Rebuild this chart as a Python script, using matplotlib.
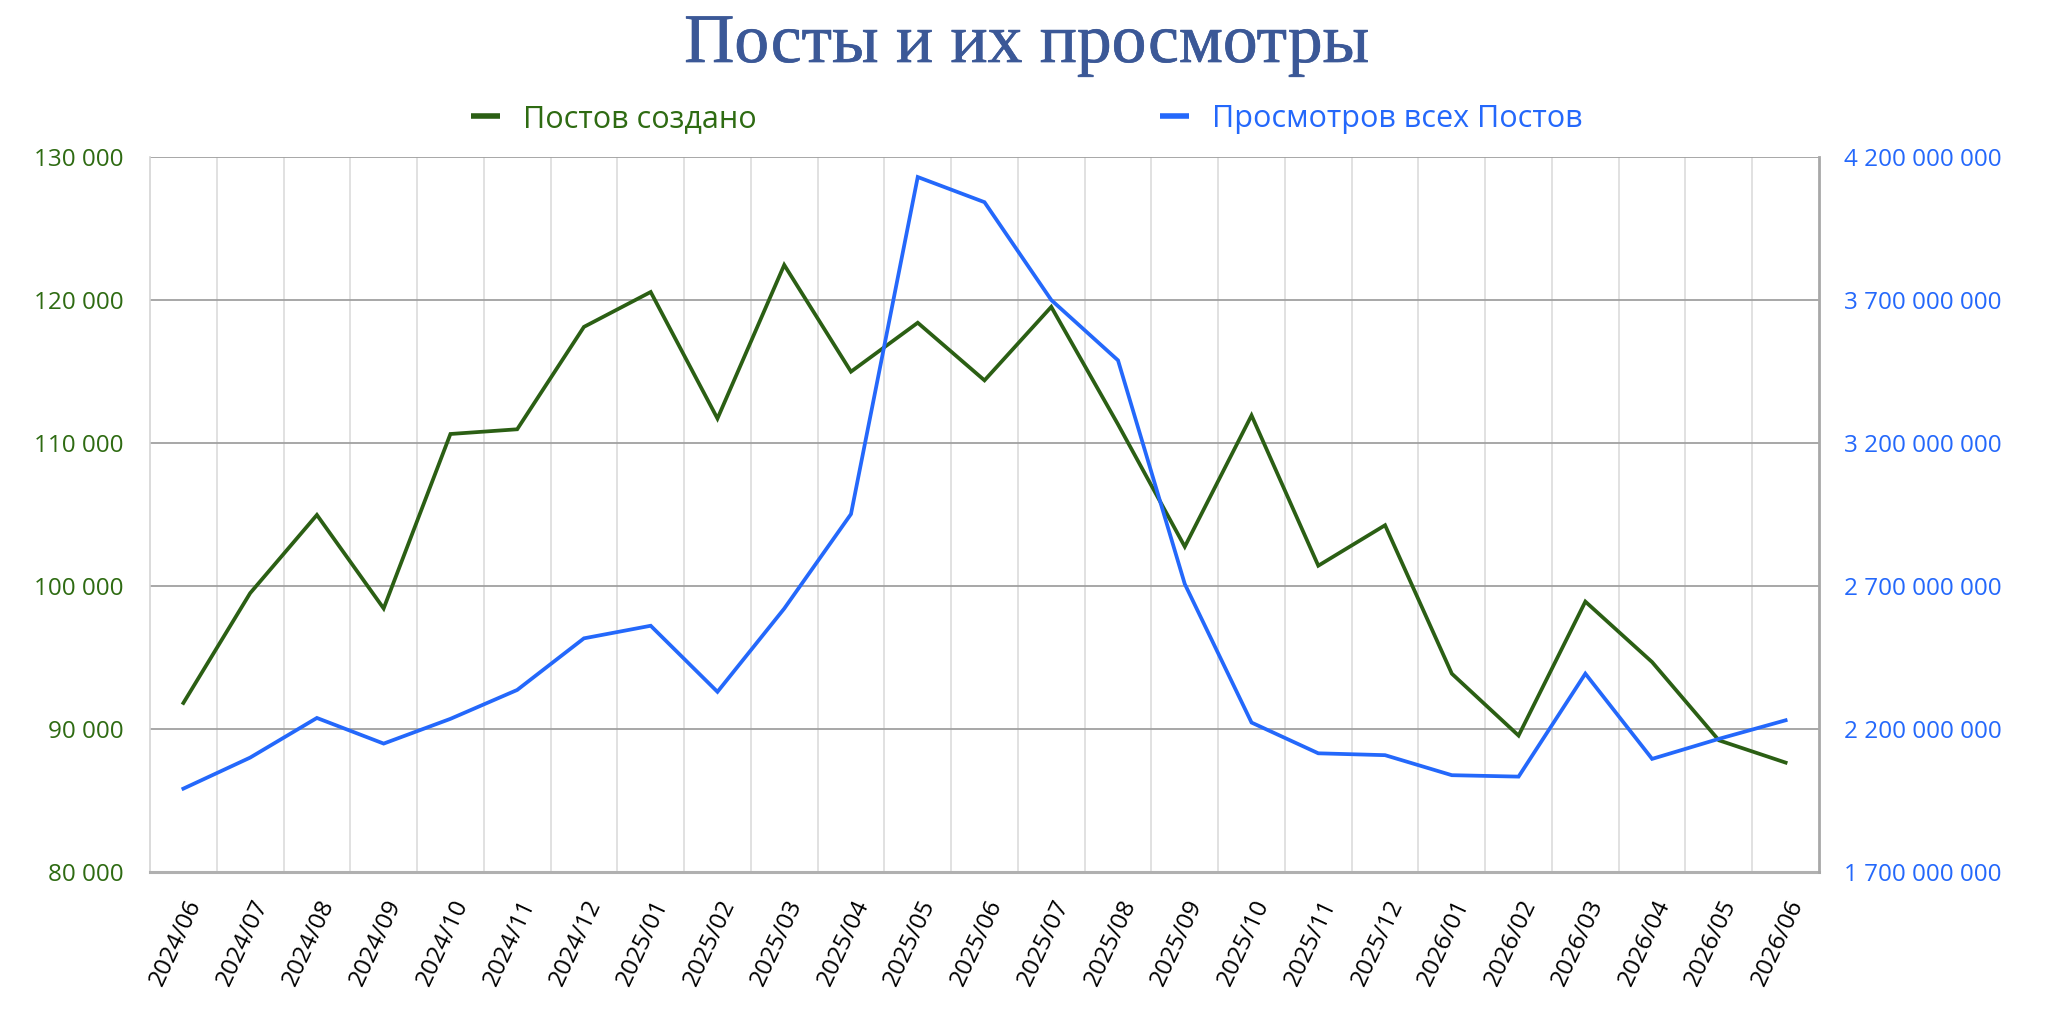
import matplotlib
matplotlib.use("Agg")
import matplotlib.pyplot as plt
import matplotlib.patheffects as pe
from matplotlib.ticker import FuncFormatter, LinearLocator
from matplotlib.transforms import ScaledTranslation


# ─── Data ─────────────────────────────────────────────────────────────────────

months = [
    "2024/06", "2024/07", "2024/08", "2024/09", "2024/10", "2024/11", "2024/12",
    "2025/01", "2025/02", "2025/03", "2025/04", "2025/05", "2025/06", "2025/07",
    "2025/08", "2025/09", "2025/10", "2025/11", "2025/12",
    "2026/01", "2026/02", "2026/03", "2026/04", "2026/05", "2026/06",
]

posts_created = [
    91820, 99500, 104970, 98430, 110630, 110960, 118120,
    120560, 111710, 122450, 114990, 118410, 114380, 119520,
    111300, 102750, 111930, 101420, 104250,
    93870, 89540, 98910, 94680, 89210, 87650,
]

post_views = [
    1.9915e9, 2.100e9, 2.2386e9, 2.149e9, 2.2355e9, 2.3365e9, 2.517e9,
    2.561e9, 2.330e9, 2.621e9, 2.9515e9, 4.130e9, 4.042e9, 3.700e9,
    3.489e9, 2.707e9, 2.2225e9, 2.115e9, 2.1085e9,
    2.0385e9, 2.0335e9, 2.3935e9, 2.0955e9, 2.1655e9, 2.2305e9,
]

left_range = (80000, 130000)
right_range = (1.7e9, 4.2e9)
n_value_ticks = 6

title_text = "Посты и их просмотры"
label_posts = "Постов создано"
label_views = "Просмотров всех Постов"


# ─── Style ────────────────────────────────────────────────────────────────────

GREEN_LINE = "#2b5f14"
GREEN_TEXT = "#2e6b12"
BLUE_LINE = "#2468fb"
BLUE_TEXT = "#2468fb"
TITLE_COLOR = "#3b5897"

plt.rcParams["font.family"] = ["Open Sans", "DejaVu Sans"]


def spaced(v, pos=None):
    return f"{v:,.0f}".replace(",", " ")


# ─── Figure ───────────────────────────────────────────────────────────────────

fig = plt.figure(figsize=(20.48, 10.15), dpi=100)
ax = fig.add_axes([150 / 2048, 1 - 872 / 1015, 1669 / 2048, 715 / 1015])
ax2 = ax.twinx()

x = list(range(len(months)))
l1, = ax.plot(x, posts_created, color=GREEN_LINE, linewidth=2.7,
              solid_joinstyle="miter", label=label_posts, zorder=3)
l2, = ax2.plot(x, post_views, color=BLUE_LINE, linewidth=2.7,
               solid_joinstyle="miter", label=label_views, zorder=3)

ax.set_xlim(-0.5, len(months) - 0.5)
ax.set_ylim(*left_range)
ax2.set_ylim(*right_range)

ax.yaxis.set_major_locator(LinearLocator(n_value_ticks))
ax2.yaxis.set_major_locator(LinearLocator(n_value_ticks))
ax.yaxis.set_major_formatter(FuncFormatter(spaced))
ax2.yaxis.set_major_formatter(FuncFormatter(spaced))

# grid: horizontal at value ticks, vertical between categories
ax.set_xticks([i + 0.5 for i in range(len(months) - 1)], minor=True)
ax.grid(axis="y", which="major", color="#a0a0a0", linewidth=1.3, zorder=0)
ax.grid(axis="x", which="minor", color="#dcdcdc", linewidth=1.2, zorder=0)
ax.set_axisbelow(True)

for a in (ax, ax2):
    for s in a.spines.values():
        s.set_visible(False)
ax.spines["left"].set_visible(True)
ax.spines["left"].set_color("#d4d4d4")
ax.spines["left"].set_linewidth(1.2)
ax.spines["bottom"].set_visible(True)
ax.spines["bottom"].set_color("#b0b0b0")
ax.spines["bottom"].set_linewidth(2.2)
ax2.spines["right"].set_visible(True)
ax2.spines["right"].set_color("#a8a8a8")
ax2.spines["right"].set_linewidth(2.0)

ax.tick_params(axis="y", length=0, pad=19, labelsize=17.5, labelcolor=GREEN_TEXT)
ax2.tick_params(axis="y", length=0, pad=18, labelsize=17.5, labelcolor=BLUE_TEXT)
ax.tick_params(axis="x", which="both", length=0, pad=17, labelsize=17.5,
               labelcolor="black")

ax.set_xticks(x)
ax.set_xticklabels(months, rotation=65, ha="right", va="top",
                   rotation_mode="anchor")
shift = ScaledTranslation(1 / 100, 0, fig.dpi_scale_trans)
for lab in ax.get_xticklabels():
    lab.set_transform(lab.get_transform() + shift)


# ─── Title and legend ─────────────────────────────────────────────────────────

fig.text(1027 / 2048, 1 - 62 / 1015, title_text, ha="center", va="baseline",
         fontsize=50, color=TITLE_COLOR, family="Liberation Serif",
         path_effects=[pe.withStroke(linewidth=0.5, foreground=TITLE_COLOR)])

leg = fig.legend([l1, l2], [label_posts, label_views], ncol=2,
                 loc="center", bbox_to_anchor=(1027 / 2048, 1 - 119 / 1015),
                 frameon=False, fontsize=22, handlelength=0.95,
                 handletextpad=0.75, columnspacing=13.2)
for txt, col in zip(leg.get_texts(), [GREEN_TEXT, BLUE_TEXT]):
    txt.set_color(col)
for h in leg.legend_handles:
    h.set_linewidth(4)
    h.set_solid_capstyle("butt")

fig.savefig("out.png", dpi=100)
